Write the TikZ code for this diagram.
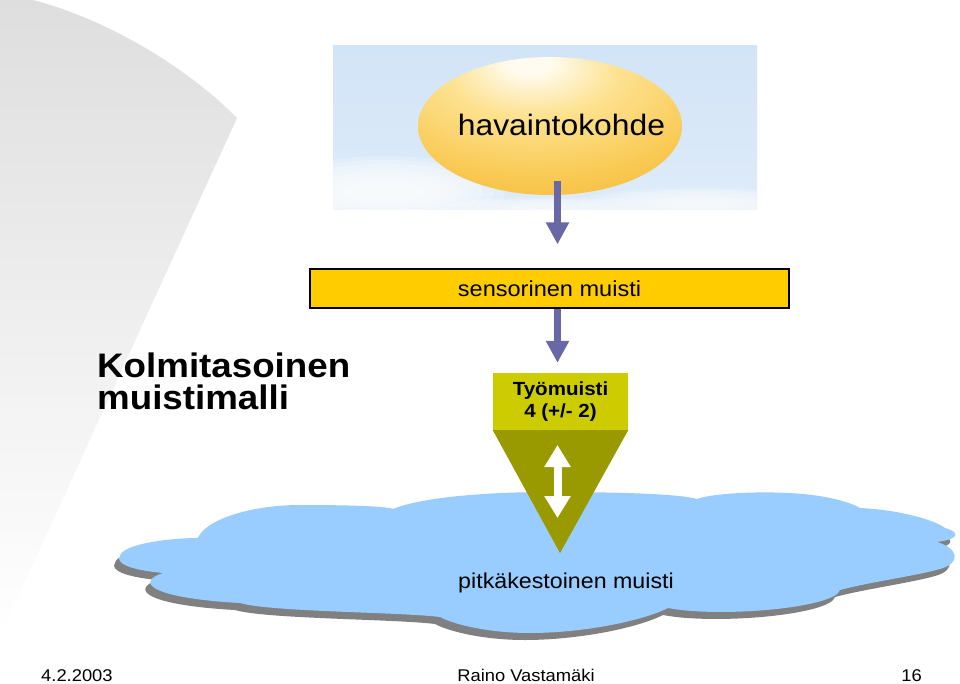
\documentclass[tikz,border=0pt]{standalone}
\usepackage{fontspec}
\setmainfont{Liberation Sans}[FakeStretch=1.08]
\usetikzlibrary{arrows.meta,shapes.geometric}
\definecolor{skytop}{RGB}{210,228,247}
\definecolor{skybot}{RGB}{222,235,250}
\definecolor{eggA}{RGB}{255,251,238}
\definecolor{eggAB}{RGB}{253,226,145}
\definecolor{eggB}{RGB}{249,201,82}
\definecolor{eggC}{RGB}{243,172,45}
\definecolor{arrowblue}{RGB}{104,104,166}
\definecolor{sensy}{RGB}{255,204,0}
\definecolor{tyoy}{RGB}{204,204,0}
\definecolor{trio}{RGB}{153,153,0}
\definecolor{cloudb}{RGB}{153,204,255}
\definecolor{cloudsh}{RGB}{128,128,128}
\definecolor{bggray}{RGB}{222,222,222}
\definecolor{bgmid}{RGB}{238,238,238}
\pgfdeclareradialshading{egg}{\pgfpoint{-4bp}{24bp}}{color(0bp)=(eggA); color(4bp)=(eggA); color(16bp)=(eggAB); color(34bp)=(eggB); color(56bp)=(eggC); color(90bp)=(eggC)}
\tikzset{
  bluearrow/.style={draw=arrowblue, line width=7pt, -{Triangle[width=22pt,length=22pt]}},
  whitearrow/.style={draw=white, line width=8pt, {Triangle[width=25pt,length=22pt]}-{Triangle[width=25pt,length=22pt]}},
  sensbox/.style={rectangle, draw=black, line width=1.3pt, fill=sensy, minimum width=479pt, minimum height=39pt, inner sep=0pt},
  tyobox/.style={rectangle, fill=tyoy, minimum width=135pt, minimum height=57pt, inner sep=0pt, align=center, font=\bfseries\fontsize{19}{22}\selectfont},
  footer/.style={inner sep=0pt, font=\fontsize{17}{20}\selectfont},
}
\def\cloudpath{(120,-556)
 .. controls (122,-544) and (170,-538) .. (198,-538)
 .. controls (205,-520) and (250,-505) .. (300,-505)
 .. controls (345,-505) and (385,-506) .. (393,-509)
 .. controls (420,-498) and (480,-492) .. (550,-492)
 .. controls (620,-492) and (680,-494) .. (697,-499)
 .. controls (715,-492) and (790,-489) .. (830,-498)
 .. controls (845,-501) and (855,-505) .. (860,-508)
 .. controls (900,-510) and (935,-520) .. (945,-528)
 .. controls (960,-532) and (960,-539) .. (937,-542)
 .. controls (958,-548) and (962,-563) .. (940,-569)
 .. controls (915,-576) and (870,-582) .. (840,-590)
 .. controls (835,-608) and (720,-618) .. (668,-608)
 .. controls (640,-622) and (580,-633) .. (530,-633)
 .. controls (490,-633) and (455,-625) .. (440,-617)
 .. controls (400,-612) and (270,-612) .. (240,-603)
 .. controls (150,-598) and (135,-582) .. (163,-573)
 .. controls (130,-570) and (115,-563) .. (120,-556) -- cycle}
\begin{document}
\begin{tikzpicture}[x=1pt,y=1pt]
\useasboundingbox (0,0) rectangle (960,-684);
\fill[white] (0,0) rectangle (960,-684);
% grey background sweep
\shade[top color=bggray, middle color=bgmid, bottom color=white] (0,0) -- (33,0) .. controls (110,-20) and (190,-70) .. (237,-118) -- (0,-636) -- cycle;
% sky picture
\begin{scope}
  \clip (333,-46) rectangle (757,-210);
  \shade[top color=skytop, bottom color=skybot] (333,-46) rectangle (757,-210);
  \foreach \i in {0,...,7} {
    \fill[white, opacity=0.2] (385,-192) ellipse ({120-11*\i} and {36-3.8*\i});
    \fill[white, opacity=0.16] (700,-203) ellipse ({120-12*\i} and {16-1.6*\i});
    \fill[white, opacity=0.14] (540,-207) ellipse ({90-9*\i} and {10-1*\i});
  }
\end{scope}
% perceived object
\node[ellipse, minimum width=264pt, minimum height=138pt, inner sep=0pt, shading=egg] (obj) at (550,-126) {};
\node[inner sep=0pt, font=\fontsize{29.5}{34}\selectfont] (objlabel) at (561.5,-125) {havaintokohde};
% sensory memory
\node[sensbox, font=\fontsize{21.8}{24}\selectfont] (sens) at (549.5,-288.5) {sensorinen muisti};
\draw[bluearrow] ([xshift=7.5pt,yshift=14pt]obj.south) -- ([xshift=8pt,yshift=24pt]sens.north);
% long-term memory cloud
\fill[cloudsh, shift={(-5,-7)}] \cloudpath;
\fill[cloudb] \cloudpath;
\node[inner sep=0pt, font=\fontsize{21.5}{24}\selectfont] (ltm) at (566,-583) {pitkäkestoinen muisti};
% working memory
\node[tyobox] (tyo) at (560.5,-401.5) {Työmuisti\\4 (+/- 2)};
\coordinate (apex) at (560,-553);
\fill[trio] (tyo.south west) -- (tyo.south east) -- (apex) -- cycle;
\draw[bluearrow] ([xshift=8pt]sens.south) -- ([xshift=-3pt,yshift=10pt]tyo.north);
\coordinate (d1) at (557.5,-445);
\coordinate (d2) at (557.5,-518);
\draw[whitearrow] (d1) -- (d2);
% title
\node[anchor=north west, inner sep=0pt, align=left, font=\bfseries\fontsize{34}{32}\selectfont] (title) at (97,-353) {Kolmitasoinen\\muistimalli};
% footer
\node[footer, anchor=base west] (date) at (41,-681) {4.2.2003};
\node[footer, anchor=base] (author) at (526,-681) {Raino Vastamäki};
\node[footer, anchor=base east] (page) at (922,-681) {16};
\end{tikzpicture}
\end{document}
